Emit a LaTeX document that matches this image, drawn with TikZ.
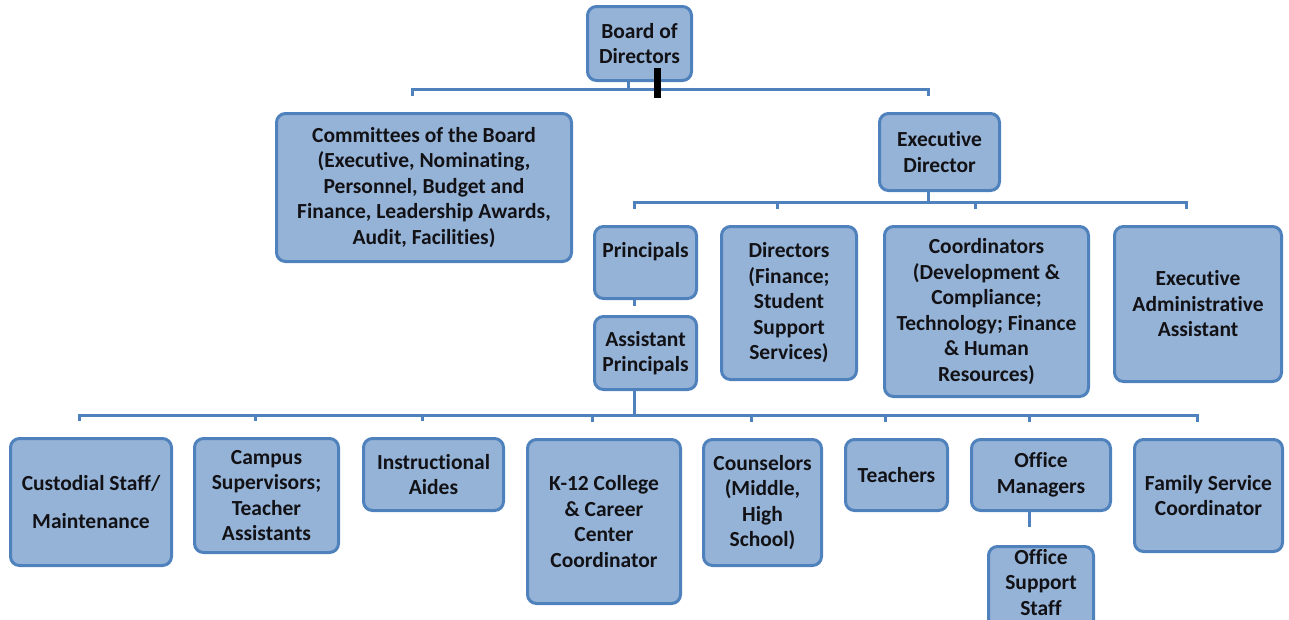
\documentclass[tikz,border=0pt]{standalone}
\usepackage{fontspec}
\setmainfont{Carlito}[Ligatures=NoCommon]
\usetikzlibrary{calc}
\definecolor{orgline}{RGB}{79,129,189}
\definecolor{orgfill}{RGB}{149,179,215}
\definecolor{orgtext}{RGB}{18,18,22}
\tikzset{
  unit/.style  = {draw=orgline, fill=orgfill, line width=3pt, rounded corners=9pt,
                  inner sep=0pt, align=center, text=orgtext,
                  font=\bfseries\fontsize{21.5}{25.5}\selectfont},
  link/.style  = {draw=orgline, line width=3pt},
  cursor/.style = {fill=black},
}

\begin{document}
\begin{tikzpicture}[x=1pt,y=-1pt]
  \clip (0,0) rectangle (1289,619);
  % top levels
  \node[unit, minimum width=104, minimum height=74] (board) at (639.5,43.5) {Board of\\Directors};
  \node[unit, minimum width=295, minimum height=148] (cmt) at (424,187.5)
    {Committees of the Board\\(Executive, Nominating,\\Personnel, Budget and\\Finance, Leadership Awards,\\Audit, Facilities)};
  \node[unit, minimum width=120, minimum height=77] (ed) at (939.5,152) {Executive\\Director};
  % staff under the executive director
  \node[unit, minimum width=102, minimum height=72] (prin) at (645.5,262.5) {Principals\\\phantom{P}};
  \node[unit, minimum width=135, minimum height=153] (dir) at (789,303)
    {Directors\\(Finance;\\Student\\Support\\Services)};
  \node[unit, minimum width=204, minimum height=170] (coord) at (986.5,311.5)
    {Coordinators\\(Development \&\\Compliance;\\Technology; Finance\\\& Human\\Resources)};
  \node[unit, minimum width=167, minimum height=155] (eaa) at (1198,304)
    {Executive\\Administrative\\Assistant};
  \node[unit, minimum width=102, minimum height=73] (ap) at (645.5,353) {Assistant\\Principals};
  % school staff
  \node[unit, minimum width=161, minimum height=127] (cust) at (91,502) {Custodial Staff/\\[12pt]Maintenance};
  \node[unit, minimum width=144, minimum height=114] (camp) at (266.5,495.5)
    {Campus\\Supervisors;\\Teacher\\Assistants};
  \node[unit, minimum width=140, minimum height=72] (ia) at (433.5,474.5) {Instructional\\Aides};
  \node[unit, minimum width=153, minimum height=164] (k12) at (604,521.5)
    {K-12 College\\\& Career\\Center\\Coordinator};
  \node[unit, minimum width=118, minimum height=126] (cnsl) at (762.5,502.5)
    {Counselors\\(Middle,\\High\\School)};
  \node[unit, minimum width=102, minimum height=71] (tch) at (896.5,475) {Teachers};
  \node[unit, minimum width=139, minimum height=71] (om) at (1041,475) {Office\\Managers};
  \node[unit, minimum width=148, minimum height=112] (fam) at (1208.5,495.5)
    {Family Service\\Coordinator};
  \node[unit, minimum width=105, minimum height=97] (oss) at (1041,595)
    {Office\\Support\\Staff\\\phantom{S}};

  % stub ends above the children, stub starts below the parents
  \foreach \n in {cmt,ed,prin,dir,coord,eaa,cust,camp,ia,k12,cnsl,tch,om,fam}
    \coordinate (\n-in) at ([xshift=-11.5pt,yshift=16pt]\n.north);
  \foreach \n in {board,ed,prin,ap,om}
    \coordinate (\n-out) at ([xshift=-11.5pt]\n.south);
  \coordinate (bus1) at ([yshift=7pt]cmt-in);
  \coordinate (bus2) at ([yshift=7pt]prin-in);
  \coordinate (bus3) at ([yshift=7pt]cust-in);

  % board level
  \draw[link] (board-out) -- (board-out |- bus1);
  \draw[link] (cmt-in) |- ([yshift=7pt]ed-in) -- (ed-in);
  % executive director level
  \draw[link] (ed-out) -- (ed-out |- bus2);
  \draw[link] (prin-in) |- ([yshift=7pt]eaa-in) -- (eaa-in);
  \foreach \n in {dir,coord}
    \draw[link] (\n-in) -- ([yshift=7pt]\n-in);
  \draw[link] (prin-out) -- ([yshift=-6pt]prin-out);
  % assistant principals level
  \draw[link] (ap-out) -- (ap-out |- bus3);
  \draw[link] (cust-in) |- ([yshift=7pt]fam-in) -- (fam-in);
  \foreach \n in {camp,ia,k12,cnsl,tch,om}
    \draw[link] (\n-in) -- ([yshift=7pt]\n-in);
  \draw[link] (om-out) -- ([yshift=-15pt]om-out);

  % cursor mark
  \fill[cursor] (654,68) rectangle (661,98);
\end{tikzpicture}
\end{document}
